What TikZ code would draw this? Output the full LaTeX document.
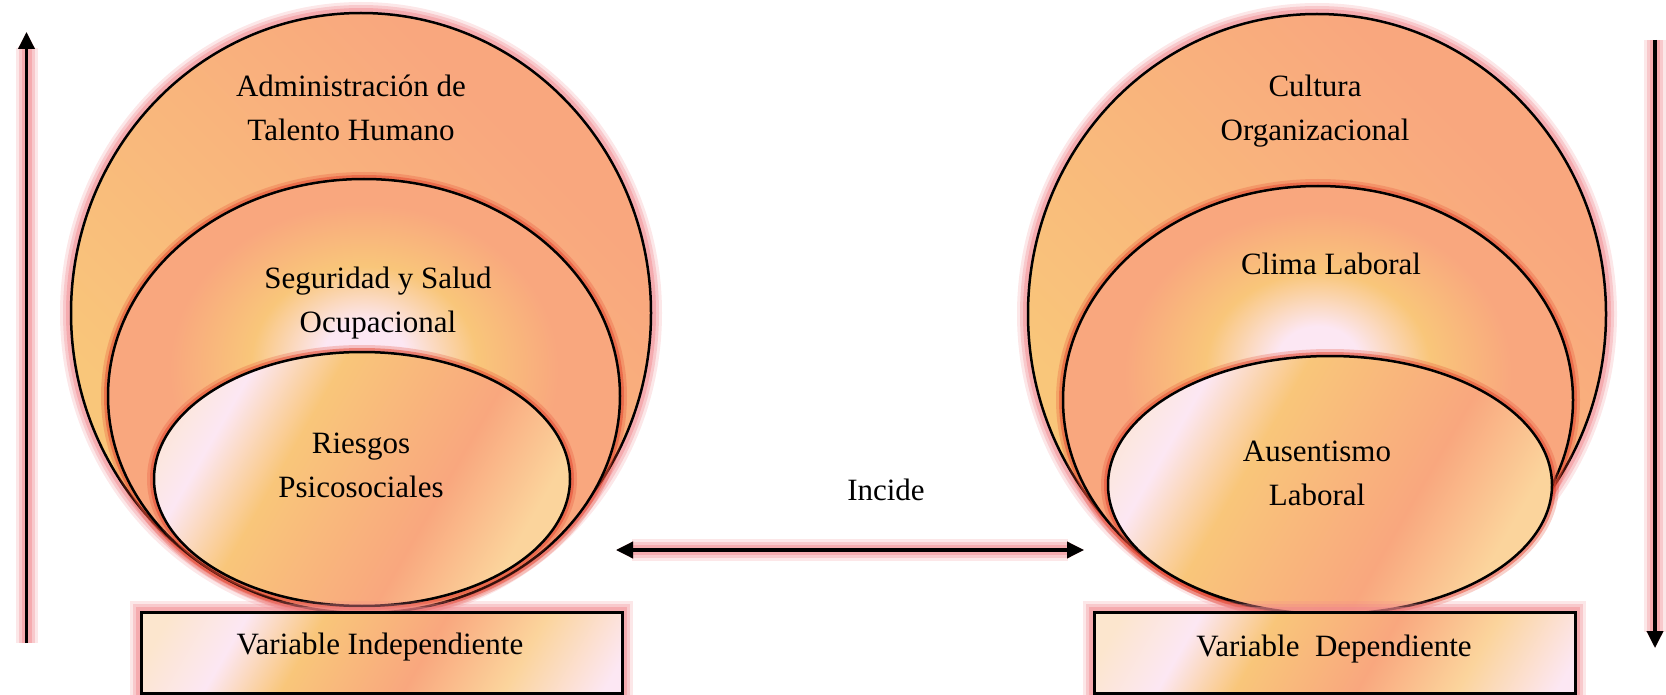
\documentclass[tikz,border=0pt]{standalone}
\usepackage{fontspec}
\setmainfont{Liberation Serif}
\usetikzlibrary{arrows.meta}
\definecolor{salmon}{HTML}{F9A77E}
\definecolor{yellowish}{HTML}{F9C67A}
\definecolor{pinkwhite}{HTML}{FCE7F3}
\definecolor{lightyellow}{HTML}{FBD49C}
\definecolor{peach}{HTML}{FCE6CE}
\definecolor{glowpink}{HTML}{F0868C}
\definecolor{glowred}{HTML}{E4462F}
\pgfdeclarehorizontalshading{outershade}{100bp}{color(0bp)=(yellowish); color(30bp)=(yellowish); color(70bp)=(salmon); color(100bp)=(salmon)}
\pgfdeclarehorizontalshading{innershade}{100bp}{color(0bp)=(peach); color(24bp)=(peach); color(32bp)=(pinkwhite); color(41bp)=(yellowish); color(59bp)=(salmon); color(70bp)=(lightyellow); color(100bp)=(lightyellow)}
\pgfdeclarehorizontalshading{boxshade}{100bp}{color(0bp)=(peach); color(29bp)=(peach); color(36bp)=(pinkwhite); color(43bp)=(yellowish); color(54bp)=(salmon); color(63bp)=(lightyellow); color(72bp)=(pinkwhite); color(100bp)=(pinkwhite)}
\pgfdeclareradialshading{midshade}{\pgfpoint{0bp}{5bp}}{color(0bp)=(pinkwhite); color(4bp)=(pinkwhite); color(11bp)=(yellowish); color(19bp)=(salmon); color(25bp)=(salmon); color(50bp)=(salmon)}
\tikzset{
  glow/.style={preaction={draw=#1, line width=22pt, draw opacity=0.2},
               preaction={draw=#1, line width=16pt, draw opacity=0.3},
               preaction={draw=#1, line width=10pt, draw opacity=0.45}},
  redglow/.style={preaction={draw=glowred, line width=14pt, draw opacity=0.25},
                  preaction={draw=glowred, line width=8pt, draw opacity=0.5}},
  outerell/.style={shading=outershade, shading angle=45, draw=black, line width=2.5pt, glow=glowpink},
  midell/.style={shading=midshade, draw=black, line width=2.5pt, redglow},
  outline/.style={draw=black, line width=2.5pt},
  boxline/.style={draw=black, line width=3pt},
  lbl/.style={font=\fontsize{31}{44}\selectfont, align=center, inner sep=0pt, text=black},
  arr/.style={draw=black, line width=3.5pt, glow=glowpink}
}
% inner ellipse: centre x, centre y, x radius, y radius
\newcommand{\myinnerell}[4]{%
  \path[redglow] (#1,#2) ellipse [x radius=#3, y radius=#4];
  \begin{scope}
    \clip (#1,#2) ellipse [x radius=#3, y radius=#4];
    \shade[shading=innershade, transform canvas={rotate around={-30:(#1,#2)}}] (#1-#3,#2-420) rectangle (#1+#3,#2+420);
  \end{scope}
  \draw[outline] (#1,#2) ellipse [x radius=#3, y radius=#4];}
% box: centre x, centre y, half width, half height
\newcommand{\myvarbox}[4]{%
  \path[glow=glowpink] (#1-#3,#2-#4) rectangle (#1+#3,#2+#4);
  \begin{scope}
    \clip (#1-#3,#2-#4) rectangle (#1+#3,#2+#4);
    \shade[shading=boxshade, transform canvas={rotate around={-30:(#1,#2)}}] (#1-#3,#2-400) rectangle (#1+#3,#2+400);
  \end{scope}
  \draw[boxline] (#1-#3,#2-#4) rectangle (#1+#3,#2+#4);}
\begin{document}
\begin{tikzpicture}[x=1pt,y=-1pt]
\useasboundingbox (0,0) rectangle (1666,695);
% left group
\shade[outerell] (361,313) ellipse [x radius=290, y radius=300];
\shade[midell] (364,396) ellipse [x radius=256, y radius=217];
\myinnerell{362}{479}{208}{127}
\myvarbox{381.5}{652.5}{240.5}{40.5}
% right group
\shade[outerell] (1317,314) ellipse [x radius=289, y radius=300];
\shade[midell] (1318,400) ellipse [x radius=255, y radius=214];
\myinnerell{1330}{485}{222}{129}
\myvarbox{1334.5}{652.5}{240.5}{40.5}
% texts
\node[lbl] (adm) at (351,108) {Administración de\\Talento Humano};
\node[lbl] (seg) at (378,303) {Seguridad y Salud\\Ocupacional};
\node[lbl] (rie) at (361,465) {Riesgos\\Psicosociales};
\node[lbl] (vi) at (380,647) {Variable Independiente};
\node[lbl] (cul) at (1315,111) {Cultura\\Organizacional};
\node[lbl] (cli) at (1331,264) {Clima Laboral};
\node[lbl] (aus) at (1317,473) {Ausentismo\\Laboral};
\node[lbl] (vd) at (1334,649) {Variable~~Dependiente};
\node[lbl] (inc) at (886,490) {Incide};
% arrows
\coordinate (la1) at (26.5,643);
\coordinate (la2) at (26.5,32);
\coordinate (ra1) at (1655,40);
\coordinate (ra2) at (1655,648);
\coordinate (da1) at (616,550);
\coordinate (da2) at (1084,550);
\draw[arr, -{Triangle[length=17pt, width=16pt]}] (la1) -- (la2);
\draw[arr, -{Triangle[length=17pt, width=16pt]}] (ra1) -- (ra2);
\draw[arr, {Triangle[length=17pt, width=16pt]}-{Triangle[length=17pt, width=16pt]}] (da1) -- (da2);
\end{tikzpicture}
\end{document}
